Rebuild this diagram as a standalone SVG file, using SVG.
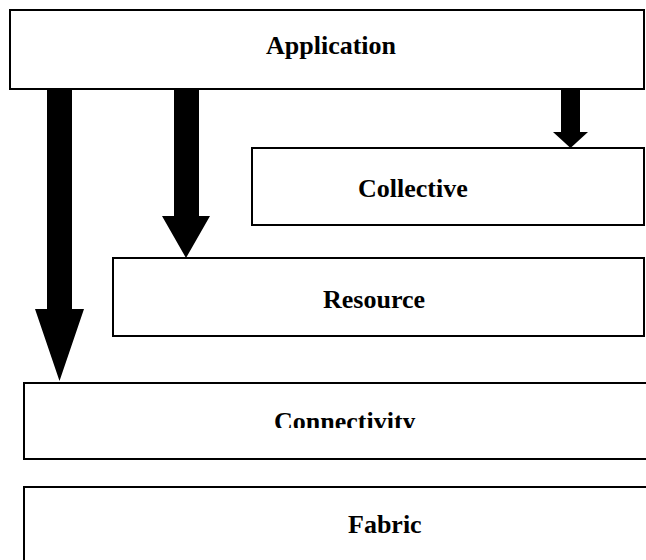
<svg xmlns="http://www.w3.org/2000/svg" width="646" height="560" viewBox="0 0 646 560">
<style>
.box{fill:#fff;stroke:#000;stroke-width:2}
.lbl{font-family:"Liberation Serif","Times New Roman",serif;font-weight:bold;font-size:26px;fill:#000}
.arr{fill:#000}
</style>
<defs>
<clipPath id="clipConn"><rect x="0" y="384" width="646" height="44"/></clipPath>
</defs>
<rect width="646" height="560" fill="#fff"/>
<g id="application"><rect class="box" x="10" y="10" width="634" height="79"/><text class="lbl" x="266" y="54">Application</text></g>
<g id="collective"><rect class="box" x="252" y="148" width="392" height="77"/><text class="lbl" x="358" y="197">Collective</text></g>
<g id="resource"><rect class="box" x="113" y="258" width="531" height="78"/><text class="lbl" x="323" y="308">Resource</text></g>
<g id="connectivity"><rect class="box" x="24" y="383" width="640" height="76"/><text class="lbl" x="274" y="430" clip-path="url(#clipConn)">Connectivity</text></g>
<g id="fabric"><rect class="box" x="24" y="487" width="640" height="90"/><text class="lbl" x="348" y="533">Fabric</text></g>
<g id="connectors">
<polygon class="arr" points="47,89 72,89 72,309 84,309 59.5,381 35,309 47,309"/>
<polygon class="arr" points="174,89 199,89 199,216 210,216 186,258 162,216 174,216"/>
<polygon class="arr" points="561,89 580,89 580,132 588,132 570.5,148 553,132 561,132"/>
</g>
</svg>
